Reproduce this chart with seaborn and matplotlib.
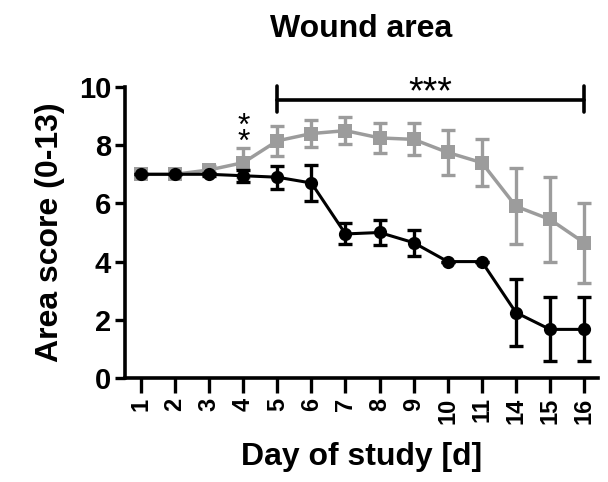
import pandas as pd
import matplotlib
matplotlib.use('Agg')
import matplotlib.pyplot as plt
import seaborn as sns

# values
days = ['1', '2', '3', '4', '5', '6', '7', '8', '9', '10', '11', '14', '15', '16']
gray_mean = [7.0, 7.0, 7.15, 7.4, 8.15, 8.4, 8.5, 8.25, 8.2, 7.75, 7.4, 5.9, 5.45, 4.65]
gray_err = [0.0, 0.0, 0.12, 0.5, 0.52, 0.45, 0.47, 0.53, 0.55, 0.78, 0.8, 1.3, 1.45, 1.38]
black_mean = [7.0, 7.0, 7.0, 6.95, 6.9, 6.7, 4.95, 5.0, 4.65, 4.0, 4.0, 2.25, 1.67, 1.67]
black_err = [0.0, 0.0, 0.05, 0.2, 0.4, 0.63, 0.36, 0.43, 0.45, 0.0, 0.0, 1.15, 1.1, 1.1]

sns.set_style('ticks')
plt.rcParams['font.family'] = ['Liberation Sans', 'DejaVu Sans']
plt.rcParams['font.weight'] = 'bold'
plt.rcParams['text.color'] = 'black'
plt.rcParams['axes.labelcolor'] = 'black'
plt.rcParams['xtick.color'] = 'black'
plt.rcParams['ytick.color'] = 'black'
plt.rcParams['axes.edgecolor'] = 'black'

df = pd.DataFrame({'pos': range(len(days)), 'day': days,
                   'gray': gray_mean, 'black': black_mean})

fig = plt.figure(figsize=(6.08, 4.82), dpi=100)
ax = fig.add_axes([0.2056, 0.2158, 0.778, 0.6037])

gray_c = '#9c9c9c'
black_c = '#000000'

# gray series
ax.errorbar(df['pos'], df['gray'], yerr=gray_err, fmt='none', ecolor=gray_c,
            elinewidth=2.4, capsize=5, capthick=2.4, zorder=2)
sns.lineplot(data=df, x='pos', y='gray', ax=ax, color=gray_c, marker='s',
             markersize=10, markeredgewidth=0, linewidth=2.5, zorder=3)

# black series
ax.errorbar(df['pos'], df['black'], yerr=black_err, fmt='none', ecolor=black_c,
            elinewidth=2.4, capsize=5, capthick=2.4, zorder=4)
sns.lineplot(data=df, x='pos', y='black', ax=ax, color=black_c, marker='o',
             markersize=9.5, markeredgewidth=0, linewidth=2.2, zorder=5)

ax.set_xlim(-0.47, 13.41)
ax.set_ylim(0, 10)
ax.set_xticks(df['pos'])
ax.set_xticklabels(days, rotation=90, fontsize=17, fontweight='bold')
ax.set_yticks([0, 2, 4, 6, 8, 10])
ax.set_yticklabels(['0', '2', '4', '6', '8', '10'], fontsize=21, fontweight='bold')
ax.tick_params(axis='x', length=11, width=2.4, pad=3)
ax.tick_params(axis='y', length=7, width=2.4, pad=3)
for s in ['top', 'right']:
    ax.spines[s].set_visible(False)
for s in ['left', 'bottom']:
    ax.spines[s].set_linewidth(2.6)

ax.set_xlabel('Day of study [d]', fontsize=23, fontweight='bold', labelpad=13)
ax.set_ylabel('Area score (0-13)', fontsize=23, fontweight='bold', labelpad=10)
ax.set_title('Wound area', fontsize=23, fontweight='bold', pad=36)

# significance marks
ax.plot([4, 13], [9.57, 9.57], color='black', lw=2.6, clip_on=False)
ax.plot([4, 4], [9.13, 10.02], color='black', lw=2.6, clip_on=False)
ax.plot([13, 13], [9.13, 10.02], color='black', lw=2.6, clip_on=False)
ax.text(8.5, 9.18, '***', ha='center', va='bottom', fontsize=27,
        fontweight='normal', clip_on=False)
ax.text(3, 7.55, '*\n*', ha='center', va='bottom', fontsize=23,
        fontweight='normal', linespacing=0.42)

fig.savefig('out.png', dpi=100)
